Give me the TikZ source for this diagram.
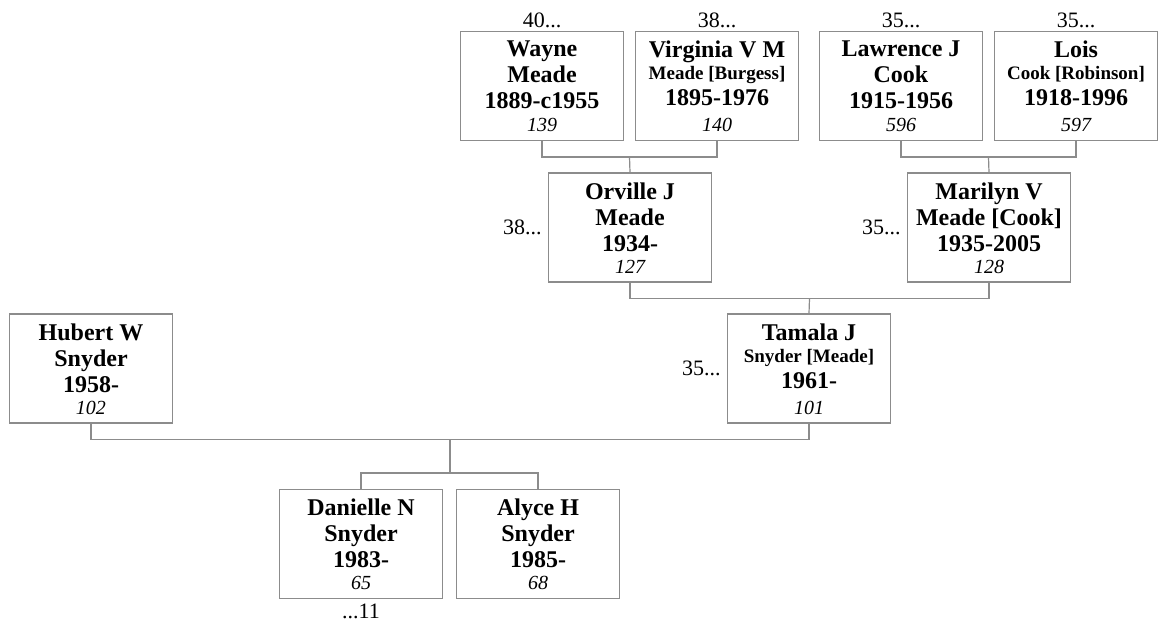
\documentclass[tikz,border=0pt]{standalone}
\usepackage{fontspec}
\setmainfont{Liberation Serif}
\usetikzlibrary{calc}
\definecolor{boxgray}{HTML}{8C8C8C}
\newcommand\nm[1]{{\fontsize{24}{26}\selectfont\bfseries #1\par}}
\newcommand\sm[1]{{\fontsize{19}{22}\selectfont\bfseries #1\par}}
\newcommand\pbox[2]{\parbox[c][109pt][t]{160pt}{\centering\vspace*{9.5pt}#1\vfill{\fontsize{20}{20}\selectfont\itshape #2\par}\vspace*{8.5pt}}}
\begin{document}
\begin{tikzpicture}[x=1pt,y=-1pt,
  person/.style={draw=boxgray, line width=1.2pt, inner sep=0pt, minimum width=163pt, minimum height=109pt},
  conn/.style={draw=boxgray, line width=1.2pt},
  lbl/.style={inner sep=0pt, font=\fontsize{22}{22}\selectfont}]
\fill[white] (0,0) rectangle (1160,628);
\useasboundingbox (0,0) rectangle (1160,628);
% top row
\node[person] (wayne)    at (542,86)  {\pbox{\nm{Wayne}\nm{Meade}\nm{1889-c1955}}{139}};
\node[person] (virginia) at (717,86)  {\pbox{\nm{Virginia V M}\sm{Meade [Burgess]}\nm{1895-1976}}{140}};
\node[person] (lawrence) at (901,86)  {\pbox{\nm{Lawrence J}\nm{Cook}\nm{1915-1956}}{596}};
\node[person] (lois)     at (1076,86) {\pbox{\nm{Lois}\sm{Cook [Robinson]}\nm{1918-1996}}{597}};
% second row
\node[person] (orville)  at (630,227.5) {\pbox{\nm{Orville J}\nm{Meade}\nm{1934-}}{127}};
\node[person] (marilyn)  at (989,227.5) {\pbox{\nm{Marilyn V}\nm{Meade [Cook]}\nm{1935-2005}}{128}};
% third row
\node[person] (hubert)   at (91,368.5)  {\pbox{\nm{Hubert W}\nm{Snyder}\nm{1958-}}{102}};
\node[person] (tamala)   at (809,368.5) {\pbox{\nm{Tamala J}\sm{Snyder [Meade]}\nm{1961-}}{101}};
% children
\node[person] (danielle) at (361,544) {\pbox{\nm{Danielle N}\nm{Snyder}\nm{1983-}}{65}};
\node[person] (alyce)    at (538,544) {\pbox{\nm{Alyce H}\nm{Snyder}\nm{1985-}}{68}};
% labels
\node[lbl, anchor=south] (lw) at ($(wayne.north)+(0,-3)$) {40...};
\node[lbl, anchor=south] (lv) at ($(virginia.north)+(0,-3)$) {38...};
\node[lbl, anchor=south] (ll) at ($(lawrence.north)+(0,-3)$) {35...};
\node[lbl, anchor=south] (lo) at ($(lois.north)+(0,-3)$) {35...};
\node[lbl, anchor=east] (lor) at ($(orville.west)+(-6,0)$) {38...};
\node[lbl, anchor=east] (lma) at ($(marilyn.west)+(-6,0)$) {35...};
\node[lbl, anchor=east] (lta) at ($(tamala.west)+(-6,0)$) {35...};
\node[lbl, anchor=north] (lda) at ($(danielle.south)+(0,5)$) {...11};
% connectors
\draw[conn] (wayne.south) -- ++(0,16) -| (virginia.south);
\draw[conn] ($(wayne.south)!.5!(virginia.south)+(0,16)$) -- (orville.north);
\draw[conn] (lawrence.south) -- ++(0,16) -| (lois.south);
\draw[conn] ($(lawrence.south)!.5!(lois.south)+(0,16)$) -- (marilyn.north);
\draw[conn] (orville.south) -- ++(0,16) -| (marilyn.south);
\draw[conn] ($(orville.south)!.5!(marilyn.south)+(0,16)$) -- (tamala.north);
\draw[conn] (hubert.south) -- ++(0,16) -| (tamala.south);
\draw[conn] (danielle.north) -- ++(0,-16) -| (alyce.north);
\coordinate (sib) at ($(danielle.north)!.5!(alyce.north)+(0,-16)$);
\coordinate (par) at ($(hubert.south)!.5!(tamala.south)+(0,16)$);
\draw[conn] (par) -- (par |- sib);
\end{tikzpicture}
\end{document}
